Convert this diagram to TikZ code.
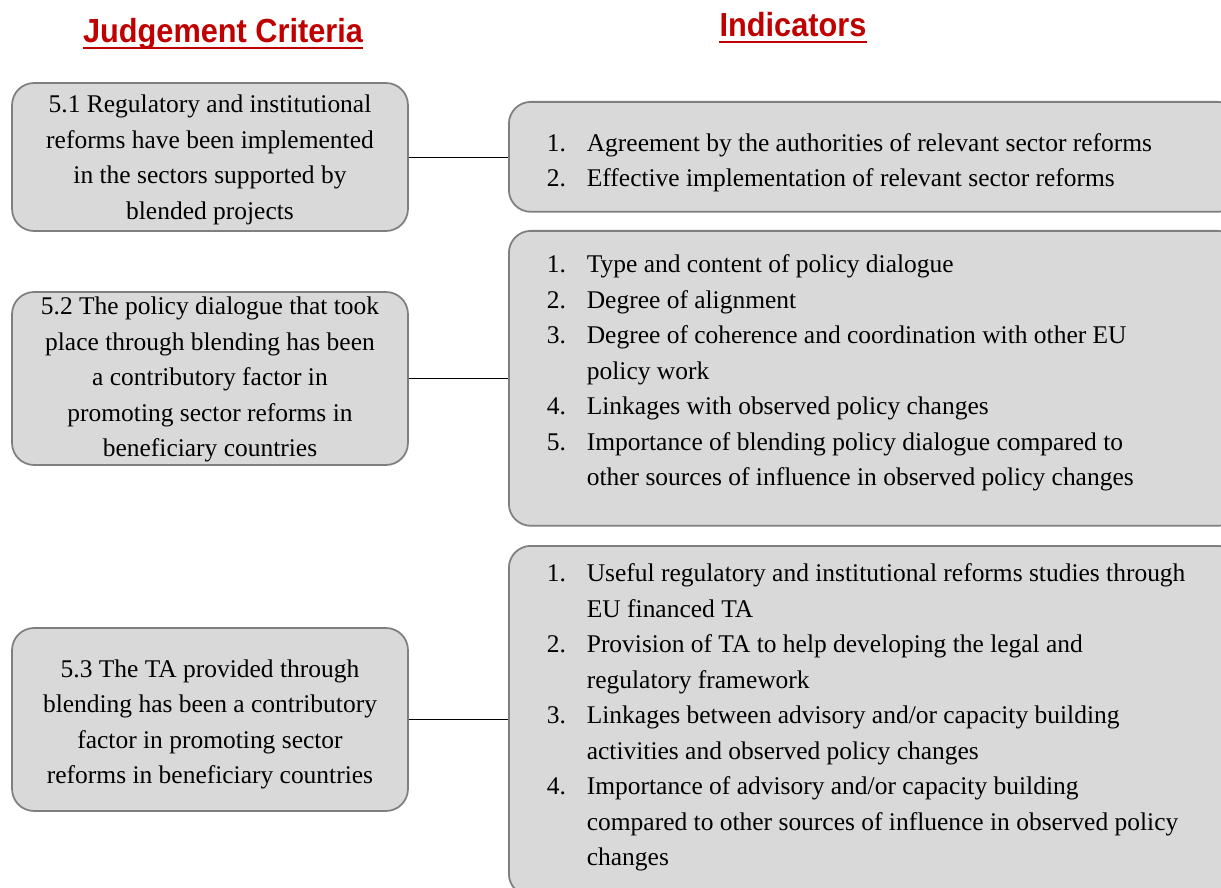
\documentclass[tikz,border=0pt]{standalone}
\usepackage{fontspec}
\setmainfont{Liberation Serif}
\newfontfamily\headfont[FakeStretch=0.92]{Liberation Sans}
\usepackage{array}

\definecolor{boxgray}{HTML}{D9D9D9}
\definecolor{linegray}{HTML}{7F7F7F}
\definecolor{headred}{HTML}{C00000}

\begin{document}
\begin{tikzpicture}[x=0.02cm, y=-0.02cm]
\tikzstyle{every node} = [font = \fontsize{14.5}{20.2}\selectfont]
\tikzstyle{crit} = [draw=linegray, line width=1pt, fill=boxgray, rounded corners=0.44cm,
  minimum width=7.92cm, inner sep=0pt]
\tikzstyle{ind} = [draw=linegray, line width=1pt, fill=boxgray, rounded corners=0.44cm,
  anchor=north west, inner xsep=0.76cm, inner ysep=0pt]
\tikzstyle{head} = [font = \headfont\bfseries\fontsize{19}{22}\selectfont, text=headred,
  anchor=base, inner sep=0pt]

\useasboundingbox (0, 0) rectangle (1221, 888);

% titoli
\node[head] (jchead) at (223, 43) {Judgement Criteria};
\node[head] (indhead) at (793, 37) {Indicators};
\draw[headred, line width=1.4pt] ([yshift=-0.1cm]jchead.base west) -- ([yshift=-0.1cm]jchead.base east);
\draw[headred, line width=1.4pt] ([yshift=-0.1cm]indhead.base west) -- ([yshift=-0.1cm]indhead.base east);

% criteri di giudizio
\node[crit, minimum height=2.96cm] (jc1) at (210, 157) {
  \begin{tabular}{@{}c@{}}
  \noalign{\vskip 0.08cm}
  5.1 Regulatory and institutional\\
  reforms have been implemented\\
  in the sectors supported by\\
  blended projects\\
  \end{tabular}
};

\node[crit, minimum height=3.46cm] (jc2) at (210, 378.5) {
  \begin{tabular}{@{}c@{}}
  \noalign{\vskip -0.1cm}
  5.2 The policy dialogue that took\\
  place through blending has been\\
  a contributory factor in\\
  promoting sector reforms in\\
  beneficiary countries\\
  \noalign{\vskip -0.1cm}
  \end{tabular}
};

\node[crit, minimum height=3.66cm] (jc3) at (210, 719.5) {
  \begin{tabular}{@{}c@{}}
  \noalign{\vskip 0.16cm}
  5.3 The TA provided through\\
  blending has been a contributory\\
  factor in promoting sector\\
  reforms in beneficiary countries\\
  \end{tabular}
};

% indicatori
\node[ind, minimum height=2.2cm] (ind1) at (508, 101) {
  \begin{tabular}{@{}p{0.8cm}@{}p{12.3cm}@{}}
  \noalign{\vskip 0.2cm}
  1. & Agreement by the authorities of relevant sector reforms\\
  2. & Effective implementation of relevant sector reforms\\
  \end{tabular}
};

\node[ind, minimum height=5.9cm] (ind2) at (508, 230) {
  \begin{tabular}{@{}p{0.8cm}@{}p{12.3cm}@{}}
  1. & Type and content of policy dialogue\\
  2. & Degree of alignment\\
  3. & Degree of coherence and coordination with other EU\\
     & policy work\\
  4. & Linkages with observed policy changes\\
  5. & Importance of blending policy dialogue compared to\\
     & other sources of influence in observed policy changes\\
  \noalign{\vskip 0.24cm}
  \end{tabular}
};

\node[ind, minimum height=7cm] (ind3) at (508, 545) {
  \begin{tabular}{@{}p{0.8cm}@{}p{12.3cm}@{}}
  1. & Useful regulatory and institutional reforms studies through\\
     & EU financed TA\\
  2. & Provision of TA to help developing the legal and\\
     & regulatory framework\\
  3. & Linkages between advisory and/or capacity building\\
     & activities and observed policy changes\\
  4. & Importance of advisory and/or capacity building\\
     & compared to other sources of influence in observed policy\\
     & changes\\
  \noalign{\vskip 0.16cm}
  \end{tabular}
};

% collegamenti
\draw (jc1.east) -- (jc1.east -| ind1.west);
\draw (jc2.east) -- (jc2.east -| ind2.west);
\draw (jc3.east) -- (jc3.east -| ind3.west);

\end{tikzpicture}
\end{document}
